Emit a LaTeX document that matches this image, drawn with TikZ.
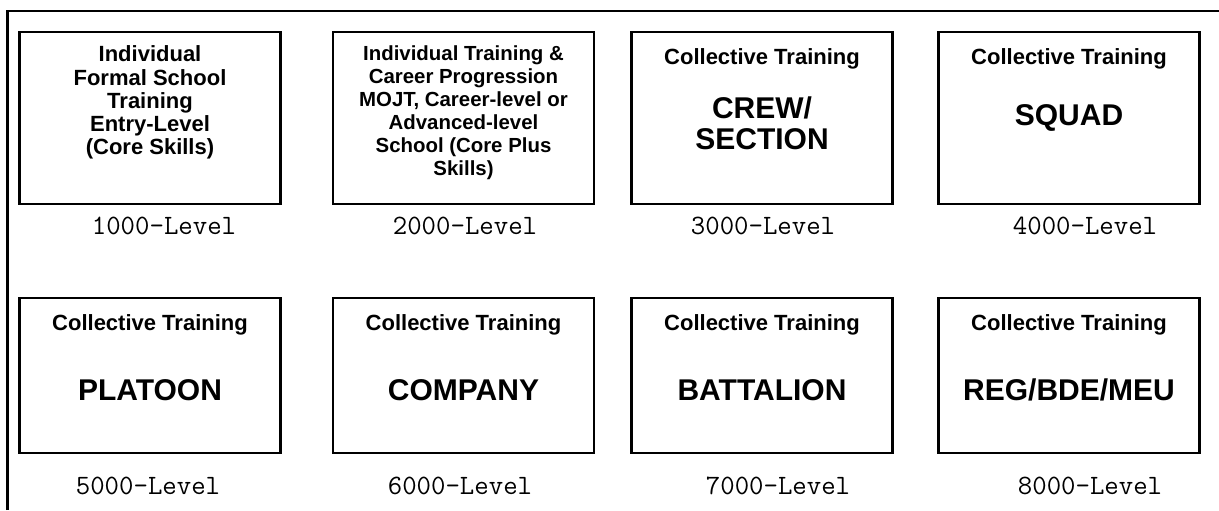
\documentclass[tikz,border=0pt]{standalone}
\usepackage{fontspec}
\setmainfont{Liberation Sans}
\usetikzlibrary{positioning}

\tikzset{
  frame/.style={line width=1.4pt},
  unit/.style={draw,line width=1.4pt,minimum width=130.5pt,minimum height=86pt,inner sep=0pt},
  indiv/.style={font=\bfseries\fontsize{11}{11.6}\selectfont,align=center,inner sep=0pt},
  coll/.style={font=\bfseries\fontsize{11}{13}\selectfont,inner sep=0pt},
  unitname/.style={font=\bfseries\fontsize{15}{15.5}\selectfont,align=center,inner sep=0pt},
  lvl/.style={font=\ttfamily\fontsize{14}{16}\selectfont,inner sep=0pt}
}

\begin{document}
\begin{tikzpicture}[x=0.5pt,y=-0.5pt]
    \useasboundingbox (0,0) rectangle (1219,510);

    % frame
    \draw[frame] (7.5,510) -- (7.5,11) -- (1219,11);

    % boxes
    \node[unit] (b1) at (150,118) {};
    \node[unit] (b2) at (463.5,118) {};
    \node[unit] (b3) at (762,118) {};
    \node[unit] (b4) at (1069,118) {};
    \node[unit,minimum height=77.5pt] (b5) at (150,375.5) {};
    \node[unit,minimum height=77.5pt] (b6) at (463.5,375.5) {};
    \node[unit,minimum height=77.5pt] (b7) at (762,375.5) {};
    \node[unit,minimum height=77.5pt] (b8) at (1069,375.5) {};

    % individual training
    \node[indiv,below=7.5pt of b1.north] (t1)
        {Individual\\Formal School\\Training\\Entry-Level\\(Core Skills)};
    \node[indiv,font=\bfseries\fontsize{10.2}{11.5}\selectfont,below=7.5pt of b2.north] (t2)
        {Individual Training \&\\Career Progression\\MOJT, Career-level or\\Advanced-level\\School (Core Plus\\Skills)};

    % collective training
    \foreach \b in {3,...,8}{
      \node[coll,below=9pt of b\b.north] (t\b) {Collective Training};
    }
    \node[unitname] (n3) at ([yshift=-2.75pt]b3.center) {CREW/\\SECTION};
    \node[unitname] (n4) at (b4.center) {SQUAD};
    \node[unitname] (n5) at ([yshift=-7.25pt]b5.center) {PLATOON};
    \node[unitname] (n6) at ([yshift=-7.25pt]b6.center) {COMPANY};
    \node[unitname] (n7) at ([yshift=-7.25pt]b7.center) {BATTALION};
    \node[unitname] (n8) at ([yshift=-7.25pt]b8.center) {REG/BDE/MEU};

    % levels
    \foreach \x/\y/\k in {164/226/1,465/226/2,763/226/3,1085/226/4,148/486/5,460/486/6,778/486/7,1090/486/8}{
      \node[lvl] (l\k) at (\x,\y) {\k000-Level};
    }
\end{tikzpicture}
\end{document}
